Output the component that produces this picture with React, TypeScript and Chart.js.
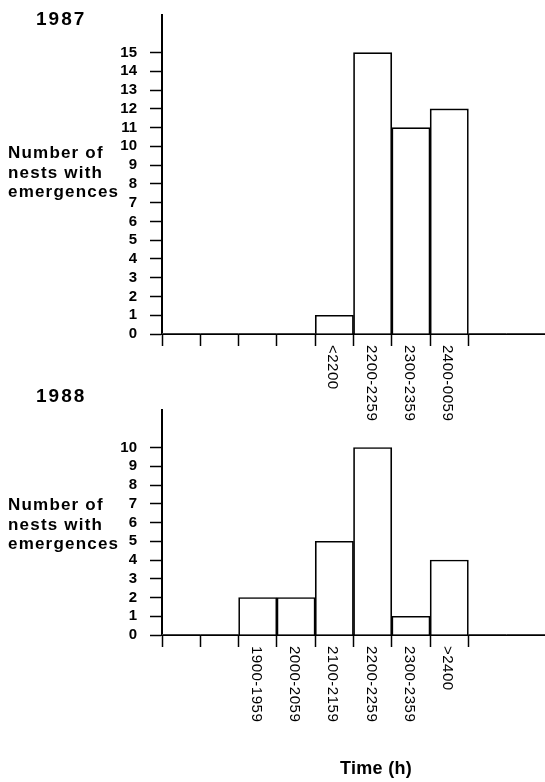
import React, { useEffect, useRef } from "react";
import { Chart, registerables } from "chart.js";

Chart.register(...registerables);

// ---------- data ----------
const bins1987: string[] = ["", "", "", "", "<2200", "2200-2259", "2300-2359", "2400-0059", "", ""];
const nests1987: number[] = [0, 0, 0, 0, 1, 15, 11, 12, 0, 0];
const yTicks1987: number[] = [0, 1, 2, 3, 4, 5, 6, 7, 8, 9, 10, 11, 12, 13, 14, 15];
const yMax1987 = 17;

const bins1988: string[] = ["", "", "1900-1959", "2000-2059", "2100-2159", "2200-2259", "2300-2359", ">2400", "", ""];
const nests1988: number[] = [0, 0, 2, 2, 5, 10, 1, 4, 0, 0];
const yTicks1988: number[] = [0, 1, 2, 3, 4, 5, 6, 7, 8, 9, 10];
const yMax1988 = 12;

const yTitleLines: string[] = ["Number of", "nests with", "emergences"];
const xTitle = "Time (h)";

const FONT = '"Liberation Sans", Arial, Helvetica, sans-serif';

type TextCfg = {
  year: string;
  yearX: number;
  yearY: number;
  yTitleX: number;
  yTitleY: number;
  yTitleGap: number;
  labelDx: number;
  labelGap: number;
  xTitle?: string;
  xTitleX?: number;
  xTitleY?: number;
};

function makeTextPlugin(cfg: TextCfg) {
  return {
    id: "paperText",
    afterDraw(chart: any) {
      const ctx: any = chart.ctx;
      const xScale = chart.scales.x;
      const area = chart.chartArea;
      ctx.save();
      ctx.fillStyle = "#000";
      ctx.textAlign = "left";
      ctx.textBaseline = "alphabetic";

      ctx.font = `bold 19px ${FONT}`;
      ctx.letterSpacing = "2px";
      ctx.fillText(cfg.year, cfg.yearX, cfg.yearY);

      ctx.font = `bold 17px ${FONT}`;
      ctx.letterSpacing = "1.2px";
      yTitleLines.forEach((line, i) => {
        ctx.fillText(line, cfg.yTitleX, cfg.yTitleY + i * cfg.yTitleGap);
      });

      ctx.font = `15px ${FONT}`;
      ctx.letterSpacing = "0.5px";
      const labels: string[] = chart.data.labels;
      labels.forEach((lab, i) => {
        if (!lab) return;
        const x = xScale.getPixelForTick(i) + cfg.labelDx;
        ctx.save();
        ctx.translate(x, area.bottom + cfg.labelGap);
        ctx.rotate(Math.PI / 2);
        ctx.textAlign = "left";
        ctx.textBaseline = "middle";
        ctx.fillText(lab, 0, 0);
        ctx.restore();
      });

      if (cfg.xTitle) {
        ctx.font = `bold 18px ${FONT}`;
        ctx.letterSpacing = "0.3px";
        ctx.textAlign = "center";
        ctx.textBaseline = "alphabetic";
        ctx.fillText(cfg.xTitle, cfg.xTitleX, cfg.xTitleY);
      }
      ctx.restore();
    },
  };
}

function buildConfig(
  labels: string[],
  values: number[],
  yTicks: number[],
  yMax: number,
  padTop: number,
  padBottom: number,
  textCfg: TextCfg
): any {
  return {
    type: "bar",
    data: {
      labels,
      datasets: [
        {
          data: values,
          backgroundColor: "#ffffff",
          borderColor: "#000000",
          borderWidth: (c: any) => (c.raw === 0 ? 0 : 1.7),
          categoryPercentage: 1,
          barPercentage: 1,
        },
      ],
    },
    options: {
      responsive: false,
      animation: false,
      devicePixelRatio: 1,
      layout: { padding: { top: padTop, bottom: padBottom, left: 0, right: 0 } },
      plugins: {
        legend: { display: false },
        tooltip: { enabled: false },
        title: { display: false },
      },
      scales: {
        x: {
          type: "category",
          offset: true,
          ticks: { display: false },
          grid: {
            offset: true,
            drawOnChartArea: false,
            drawTicks: true,
            tickLength: 12,
            tickWidth: 1.5,
            tickColor: (c: any) =>
              c.index !== undefined && c.index <= 8 ? "#000" : "rgba(0,0,0,0)",
          },
          border: { display: true, color: "#000", width: 2 },
        },
        y: {
          type: "linear",
          min: 0,
          max: yMax,
          afterBuildTicks: (axis: any) => {
            axis.ticks = yTicks.map((v) => ({ value: v }));
          },
          afterFit: (axis: any) => {
            axis.width = 162;
            axis.paddingTop = 0;
            axis.paddingBottom = 0;
          },
          ticks: {
            color: "#000",
            padding: 13,
            autoSkip: false,
            font: { family: FONT, size: 15, weight: "bold" },
          },
          grid: {
            drawOnChartArea: false,
            drawTicks: true,
            tickLength: 12,
            tickWidth: 1.5,
            tickColor: "#000",
          },
          border: { display: true, color: "#000", width: 2 },
        },
      },
    },
    plugins: [makeTextPlugin(textCfg)],
  };
}

function BarPanel(props: { top: number; height: number; config: any }) {
  const ref = useRef<HTMLCanvasElement | null>(null);
  useEffect(() => {
    if (!ref.current) return;
    const chart = new Chart(ref.current, props.config);
    return () => chart.destroy();
  }, []);
  return (
    <canvas
      ref={ref}
      width={545}
      height={props.height}
      style={{
        position: "absolute",
        left: 0,
        top: props.top,
        width: 545,
        height: props.height,
      }}
    />
  );
}

export default function App() {
  const cfg1987 = buildConfig(bins1987, nests1987, yTicks1987, yMax1987, 15, 84, {
    year: "1987",
    yearX: 36,
    yearY: 25,
    yTitleX: 8,
    yTitleY: 158,
    yTitleGap: 19.5,
    labelDx: -2,
    labelGap: 11,
  });
  const cfg1988 = buildConfig(bins1988, nests1988, yTicks1988, yMax1988, 30, 135, {
    year: "1988",
    yearX: 36,
    yearY: 22,
    yTitleX: 8,
    yTitleY: 130,
    yTitleGap: 19.5,
    labelDx: -2,
    labelGap: 11,
    xTitle: xTitle,
    xTitleX: 376,
    xTitleY: 394,
  });
  return (
    <div
      style={{
        position: "fixed",
        left: 0,
        top: 0,
        width: 545,
        height: 782,
        background: "#fff",
        overflow: "hidden",
      }}
    >
      <BarPanel top={0} height={430} config={cfg1987} />
      <BarPanel top={380} height={402} config={cfg1988} />
    </div>
  );
}
